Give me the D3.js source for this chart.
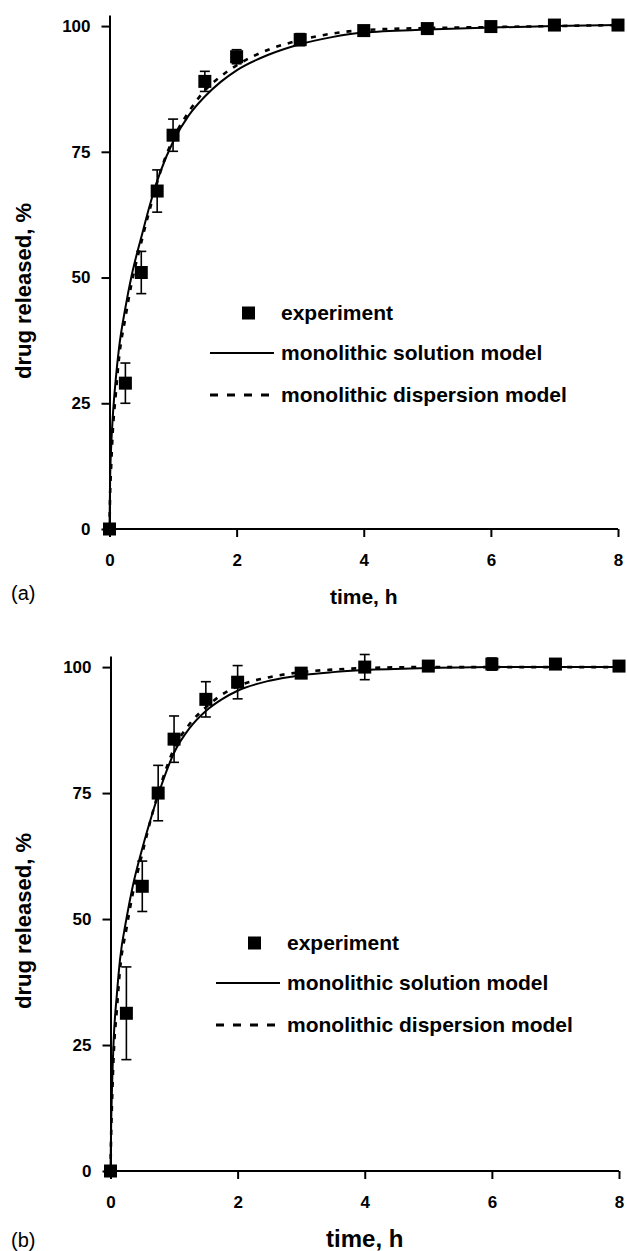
<!DOCTYPE html>
<html>
<head>
<meta charset="utf-8">
<script src="https://cdn.jsdelivr.net/npm/d3@7"></script>
<style>
    body { margin: 0; background: #fff; }
    svg { display: block; font-family: "Liberation Sans", Arial, sans-serif; }
    .axis path, .axis line { stroke: #000; stroke-width: 2; }
    .axis text { font-size: 17px; font-weight: bold; fill: #000; }
</style>
</head>
<body>
<div id="chart"></div>
<script>

// measured points (time in h, % released)
var expTimes = [0, 0.25, 0.5, 0.75, 1, 1.5, 2, 3, 4, 5, 6, 7, 8];

var expA = [0, 29, 51, 67.2, 78.3, 89, 93.9, 97.3, 99.1, 99.5, 99.9, 100.2, 100.2];
var errA = [0, 4, 4.2, 4.2, 3.2, 2, 1.4, 1.2, 0.8, 0.6, 0.6, 0.5, 0.5];

var expB = [0, 31.3, 56.5, 75, 85.7, 93.6, 97, 98.8, 100, 100.2, 100.6, 100.6, 100.2];
var errB = [0, 9.2, 5, 5.5, 4.6, 3.5, 3.3, 1, 2.5, 0.8, 1.2, 0.8, 0.5];

// model curves
var modelTimes = [0, 0.01, 0.025, 0.05, 0.1, 0.15, 0.25, 0.35, 0.5, 0.66, 0.8, 1, 1.25, 1.5, 1.75, 2, 2.5, 3, 3.5, 4, 5, 6, 7, 8];

var solutionA = [0, 10, 16, 22, 30, 36, 44, 50.5, 58, 65.5, 71, 77, 82.3, 86, 88.9, 91.2, 94.3, 96.4, 97.8, 98.7, 99.3, 99.7, 100, 100.2];
var dispersionA = [0, 7, 12, 19, 27, 34, 42, 49, 57, 64.8, 71, 77.5, 83, 87.2, 90, 92.2, 95.3, 97.2, 98.5, 99.2, 99.6, 99.8, 100, 100.2];

var solutionB = [0, 9, 17, 26, 35, 42, 50, 56.5, 64, 71, 76.5, 83, 88, 91.3, 93.6, 95.3, 97.3, 98.4, 99, 99.4, 99.8, 100, 100, 100];
var dispersionB = [0, 7, 14, 23, 32, 40, 48, 55, 63, 71, 77, 83.8, 88.8, 92, 94.5, 96.2, 98, 99, 99.5, 99.8, 100, 100, 100, 100];

var xTicks = [0, 2, 4, 6, 8];
var yTicks = [0, 25, 50, 75, 100];
var legendLabels = ["experiment", "monolithic solution model", "monolithic dispersion model"];


function ReleaseChart(svg, config){
    var self = this;
    self.svg = svg;
    self.config = config;

    self.initVis();
}

ReleaseChart.prototype.initVis = function(){
    var self = this;
    var c = self.config;

    self.g = self.svg.append("g");

    self.x = d3.scaleLinear()
        .domain([0, 8])
        .range([c.left, c.right]);

    self.y = d3.scaleLinear()
        .domain([0, 102.2])
        .range([c.bottom, c.top]);

    // model curves
    var line = d3.line()
        .x(function(d){ return self.x(d[0]); })
        .y(function(d){ return self.y(d[1]); })
        .curve(d3.curveMonotoneX);

    self.g.append("path")
        .datum(modelTimes.map(function(t, i){ return [t, c.solution[i]]; }))
        .attr("fill", "none")
        .attr("stroke", "#000")
        .attr("stroke-width", 2)
        .attr("d", line);

    self.g.append("path")
        .datum(modelTimes.map(function(t, i){ return [t, c.dispersion[i]]; }))
        .attr("fill", "none")
        .attr("stroke", "#000")
        .attr("stroke-width", 2.6)
        .attr("stroke-dasharray", "5,7")
        .attr("d", line);

    // axes
    self.g.append("g")
        .attr("class", "axis")
        .attr("transform", `translate(0, ${c.bottom})`)
        .call(d3.axisBottom(self.x).tickValues(xTicks).tickSize(8).tickSizeOuter(0).tickPadding(c.xPad))
        .call(function(g){ g.select(".domain").attr("d", `M${c.left},0H${c.right}`); });

    self.g.append("g")
        .attr("class", "axis")
        .attr("transform", `translate(${c.left}, 0)`)
        .call(d3.axisLeft(self.y).tickValues(yTicks).tickSize(8).tickSizeOuter(0).tickPadding(11));

    // error bars + squares
    var pts = expTimes.map(function(t, i){ return { t: t, v: c.exp[i], e: c.err[i] }; });

    var bars = self.g.selectAll(".err")
        .data(pts.filter(function(d){ return d.e > 0; }))
        .join("g")
        .attr("class", "err")
        .attr("stroke", "#000")
        .attr("stroke-width", 1.6);

    bars.append("line")
        .attr("x1", function(d){ return self.x(d.t); })
        .attr("x2", function(d){ return self.x(d.t); })
        .attr("y1", function(d){ return self.y(d.v - d.e); })
        .attr("y2", function(d){ return self.y(d.v + d.e); });

    [-1, 1].forEach(function(s){
        bars.append("line")
            .attr("x1", function(d){ return self.x(d.t) - 5; })
            .attr("x2", function(d){ return self.x(d.t) + 5; })
            .attr("y1", function(d){ return self.y(d.v + s * d.e); })
            .attr("y2", function(d){ return self.y(d.v + s * d.e); });
    });

    self.g.selectAll(".pt")
        .data(pts)
        .join("rect")
        .attr("class", "pt")
        .attr("x", function(d){ return self.x(d.t) - 6.5; })
        .attr("y", function(d){ return self.y(d.v) - 6.5; })
        .attr("width", 13)
        .attr("height", 13)
        .attr("fill", "#000");

    // axis titles
    self.g.append("text")
        .attr("transform", `translate(31, ${c.titleY}) rotate(-90)`)
        .attr("text-anchor", "middle")
        .attr("font-size", 22)
        .attr("font-weight", "bold")
        .text("drug released, %");

    self.g.append("text")
        .attr("x", (c.left + c.right) / 2)
        .attr("y", c.timeY)
        .attr("text-anchor", "middle")
        .attr("font-size", c.timeSize)
        .attr("font-weight", "bold")
        .text("time, h");

    self.g.append("text")
        .attr("x", 11)
        .attr("y", c.labelY)
        .attr("font-size", 20)
        .text(c.label);

    // legend
    var L = c.legend;
    self.g.append("rect")
        .attr("x", L.x + 26).attr("y", L.y - 6.5)
        .attr("width", 13).attr("height", 13)
        .attr("fill", "#000");

    self.g.append("line")
        .attr("x1", L.x - 6).attr("x2", L.x + 58)
        .attr("y1", L.y + 40).attr("y2", L.y + 40)
        .attr("stroke", "#000").attr("stroke-width", 2);

    self.g.append("line")
        .attr("x1", L.x - 6).attr("x2", L.x + 62)
        .attr("y1", L.y + 82).attr("y2", L.y + 82)
        .attr("stroke", "#000").attr("stroke-width", 3)
        .attr("stroke-dasharray", "8,9");

    self.g.selectAll(".leg")
        .data(legendLabels)
        .join("text")
        .attr("class", "leg")
        .attr("x", L.x + 65)
        .attr("y", function(d, i){ return L.y + 7 + [0, 40, 82][i]; })
        .attr("font-size", 21)
        .attr("font-weight", "bold")
        .text(function(d){ return d; });
};


var svg = d3.select("#chart")
    .append("svg")
    .attr("width", 627)
    .attr("height", 1251);

new ReleaseChart(svg, {
    left: 109.5, right: 618, top: 15, bottom: 529,
    exp: expA, err: errA, solution: solutionA, dispersion: dispersionA,
    xPad: 17, timeY: 604, timeSize: 21, label: "(a)", labelY: 600,
    titleY: 291,
    legend: { x: 216, y: 313 }
});

new ReleaseChart(svg, {
    left: 110.5, right: 619, top: 656, bottom: 1171,
    exp: expB, err: errB, solution: solutionB, dispersion: dispersionB,
    xPad: 17, timeY: 1247, timeSize: 24, label: "(b)", labelY: 1247,
    titleY: 921,
    legend: { x: 222, y: 943 }
});

</script>
</body>
</html>
